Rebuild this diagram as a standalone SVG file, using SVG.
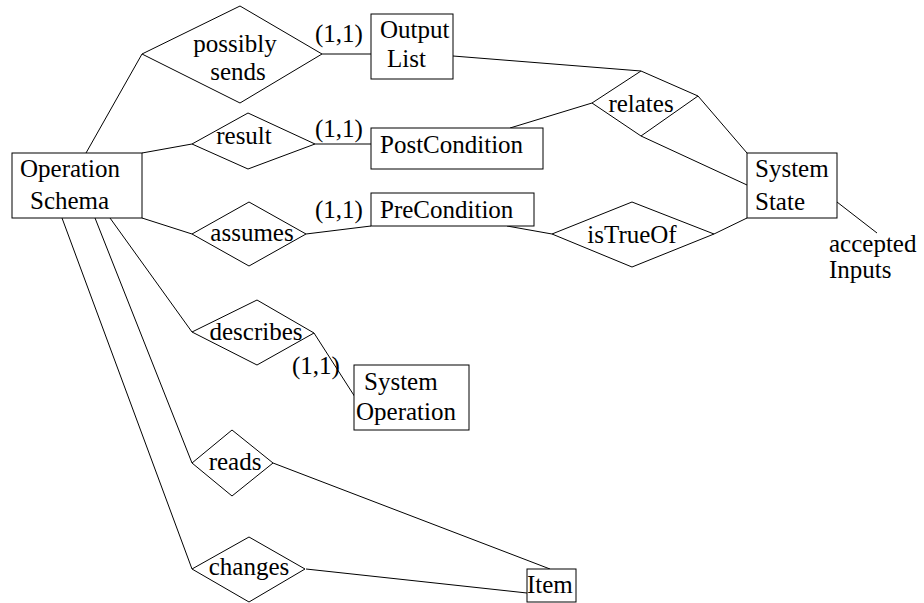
<svg xmlns="http://www.w3.org/2000/svg" width="924" height="603" viewBox="0 0 924 603">
<style>
.n{fill:#fff;stroke:#000;stroke-width:1}
.e{fill:none;stroke:#000;stroke-width:1}
text{font-size:25px;fill:#000}
.m{text-anchor:middle}
</style>
<rect width="924" height="603" fill="#fff"/>
<g font-family="Liberation Serif, Times New Roman, serif">
<g id="connectors">
<line class="e" x1="142" y1="54" x2="86" y2="153"/>
<line class="e" x1="322" y1="54" x2="371" y2="54"/>
<line class="e" x1="142" y1="153" x2="192" y2="144"/>
<line class="e" x1="315" y1="144" x2="371" y2="144"/>
<line class="e" x1="142" y1="218" x2="192" y2="234"/>
<line class="e" x1="306" y1="234" x2="371" y2="226"/>
<line class="e" x1="453" y1="56" x2="641" y2="71"/>
<line class="e" x1="510" y1="128" x2="592" y2="103"/>
<line class="e" x1="698" y1="96" x2="747" y2="153"/>
<line class="e" x1="641" y1="136" x2="747" y2="185"/>
<line class="e" x1="507" y1="226" x2="552" y2="234"/>
<line class="e" x1="714" y1="234" x2="747" y2="218"/>
<line class="e" x1="837" y1="202" x2="877" y2="233"/>
<line class="e" x1="110" y1="218" x2="192" y2="332"/>
<line class="e" x1="314" y1="333" x2="355" y2="397"/>
<line class="e" x1="95" y1="218" x2="192" y2="463"/>
<line class="e" x1="273" y1="463" x2="550" y2="569"/>
<line class="e" x1="62" y1="218" x2="192" y2="569"/>
<line class="e" x1="306" y1="569" x2="527" y2="593"/>
<text x="315" y="42">(1,1)</text>
<text x="315" y="137">(1,1)</text>
<text x="315" y="218">(1,1)</text>
<text x="292" y="374">(1,1)</text>
<text x="829" y="252">accepted</text>
<text x="829" y="278">Inputs</text>
</g>
<g id="OperationSchema">
<rect class="n" x="12" y="153" width="130" height="65"/>
<text x="20" y="177">Operation</text>
<text x="30" y="209">Schema</text>
</g>
<g id="OutputList">
<rect class="n" x="371" y="14" width="82" height="65"/>
<text x="380" y="38">Output</text>
<text x="387" y="67">List</text>
</g>
<g id="PostCondition">
<rect class="n" x="371" y="128" width="172" height="41"/>
<text x="380" y="153">PostCondition</text>
</g>
<g id="PreCondition">
<rect class="n" x="371" y="193" width="163" height="33"/>
<text x="380" y="218">PreCondition</text>
</g>
<g id="SystemState">
<rect class="n" x="747" y="153" width="90" height="65"/>
<text x="755" y="177">System</text>
<text x="755" y="210">State</text>
</g>
<g id="SystemOperation">
<rect class="n" x="354" y="365" width="115" height="65"/>
<text x="364" y="390">System</text>
<text x="356" y="420">Operation</text>
</g>
<g id="Item">
<rect class="n" x="527" y="569" width="49" height="33"/>
<text x="527" y="593">Item</text>
</g>
<g id="possiblySends">
<polygon class="n" points="142,54 240,6 322,54 240,103"/>
<text class="m" x="235" y="52">possibly</text>
<text class="m" x="238" y="80">sends</text>
</g>
<g id="result">
<polygon class="n" points="192,144 248,113 315,144 248,169"/>
<text class="m" x="244" y="144">result</text>
</g>
<g id="assumes">
<polygon class="n" points="192,234 249,202 306,234 249,266"/>
<text class="m" x="252" y="241">assumes</text>
</g>
<g id="relates">
<polygon class="n" points="592,103 641,71 698,96 641,136"/>
<text class="m" x="641" y="112">relates</text>
</g>
<g id="isTrueOf">
<polygon class="n" points="552,234 632,202 714,234 632,267"/>
<text class="m" x="632" y="243">isTrueOf</text>
</g>
<g id="describes">
<polygon class="n" points="192,332 257,300 314,333 257,365"/>
<text class="m" x="256" y="340">describes</text>
</g>
<g id="reads">
<polygon class="n" points="192,463 232,430 273,463 232,496"/>
<text class="m" x="235" y="470">reads</text>
</g>
<g id="changes">
<polygon class="n" points="192,569 249,537 305,569 249,602"/>
<text class="m" x="249" y="575">changes</text>
</g>
</g>
</svg>
